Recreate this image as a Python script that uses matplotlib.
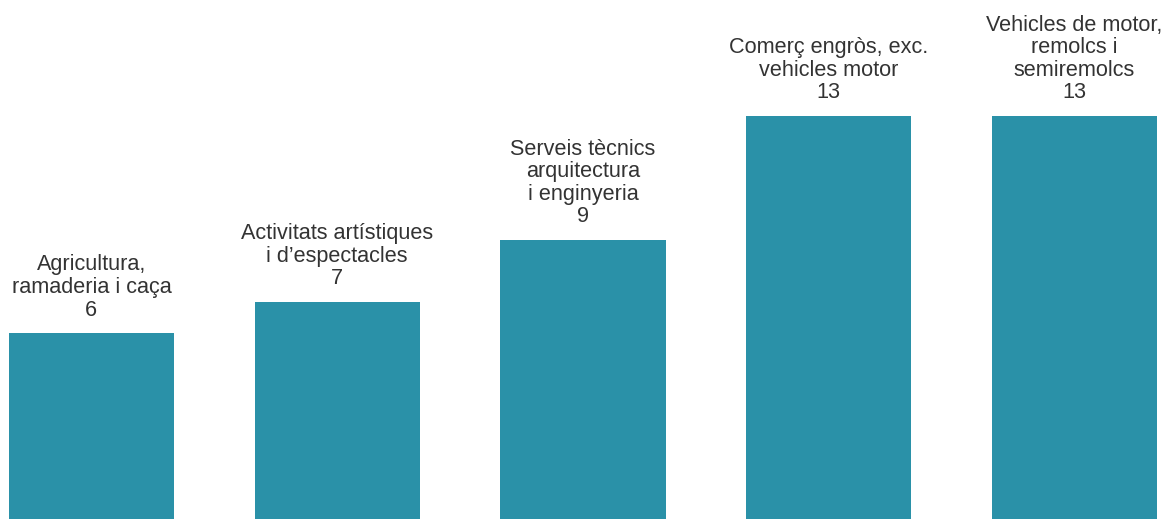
import matplotlib
matplotlib.use("Agg")
import matplotlib.pyplot as plt

# data
categories = [
    "Agricultura,\nramaderia i caça",
    "Activitats artístiques\ni d\u2019espectacles",
    "Serveis tècnics\narquitectura\ni enginyeria",
    "Comerç engròs, exc.\nvehicles motor",
    "Vehicles de motor,\nremolcs i\nsemiremolcs",
]
values = [6, 7, 9, 13, 13]

BAR_COLOR = "#2a91a8"
TEXT_COLOR = "#333333"

fig = plt.figure(figsize=(11.64, 5.19), dpi=100)
ax = fig.add_axes([0, 0, 1, 1])

x = list(range(len(values)))
ax.bar(x, values, width=0.672, color=BAR_COLOR)

for xi, v, cat in zip(x, values, categories):
    ax.annotate(f"{cat}\n{v}", xy=(xi, v), xytext=(0, 9), textcoords="offset points",
                ha="center", va="bottom", fontsize=15.6, color=TEXT_COLOR,
                family=["Liberation Sans", "DejaVu Sans"], linespacing=1.1)

ax.set_xlim(-0.372, 4.364)
ax.set_ylim(0, 519 / 31.0)
ax.axis("off")

fig.savefig("out.png", dpi=100, facecolor="white")
